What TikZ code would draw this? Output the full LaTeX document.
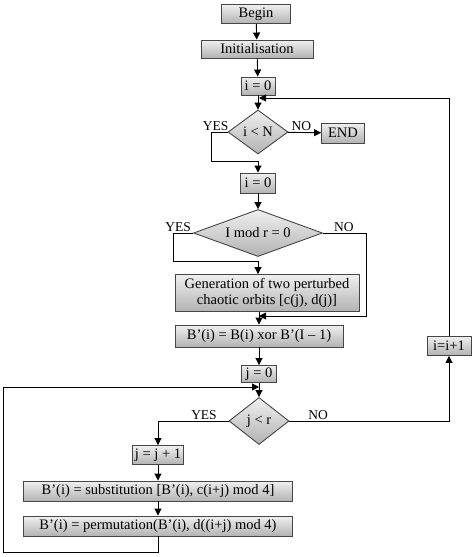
\documentclass[tikz,border=0pt]{standalone}
\usepackage{fontspec}
\setmainfont{Liberation Serif}
\usetikzlibrary{shapes.geometric,arrows.meta}

\tikzset{
  blk/.style={rectangle, draw=gray!55!black, line width=0.9pt, top color=gray!12, bottom color=gray!60,
    inner sep=1pt, font=\fontsize{14.5}{15.5}\selectfont},
  dec/.style={diamond, draw=gray!55!black, line width=0.9pt, top color=gray!12, bottom color=gray!60,
    inner sep=0pt, font=\fontsize{14.5}{15.5}\selectfont},
  lbl/.style={font=\fontsize{13.5}{14}\selectfont, inner sep=1pt},
  arr/.style={-{Triangle[length=7pt,width=7pt]}, line width=0.9pt},
  ln/.style={line width=0.9pt}
}

\begin{document}
\begin{tikzpicture}[x=1pt,y=-1pt]
	\useasboundingbox (0,0) rectangle (474,557);

	\node[blk, minimum width=69pt, minimum height=19pt] (begin) at (256,14) {Begin};
	\node[blk, minimum width=112pt, minimum height=18pt] (init) at (257,49) {Initialisation};
	\node[blk, minimum width=34pt, minimum height=18pt] (ia) at (258,86) {i = 0};
	\node[dec, aspect=1.36, minimum width=60pt, minimum height=44pt] (dn) at (258,132) {i < N};
	\node[blk, minimum width=43pt, minimum height=20pt] (end) at (343,133) {END};
	\node[blk, minimum width=35pt, minimum height=20pt] (ib) at (258,183) {i = 0};
	\node[dec, aspect=2.74, minimum width=129pt, minimum height=47pt] (dmod) at (258,233) {I mod r = 0};
	\node[blk, minimum width=184pt, minimum height=37pt, align=center] (gen) at (267,293)
		{Generation of two perturbed\\chaotic orbits [c(j), d(j)]};
	\node[blk, minimum width=168pt, minimum height=22pt] (xor) at (259,336) {B’(i) = B(i) xor B’(I – 1)};
	\node[blk, minimum width=35pt, minimum height=17pt] (ja) at (259,374) {j = 0};
	\node[dec, aspect=1.28, minimum width=60pt, minimum height=47pt] (djr) at (259,421) {j < r};
	\node[blk, minimum width=44pt, minimum height=19pt] (inc) at (449,346) {i=i+1};
	\node[blk, minimum width=51pt, minimum height=19pt] (jinc) at (158,455) {j = j + 1};
	\node[blk, minimum width=269pt, minimum height=20pt] (sub) at (158,491)
		{B’(i) = substitution [B’(i), c(i+j) mod 4]};
	\node[blk, minimum width=269pt, minimum height=20pt] (perm) at (158,526)
		{B’(i) = permutation(B’(i), d((i+j) mod 4)};

	\coordinate (m1) at (259,98);
	\coordinate (y1) at (258,161);
	\coordinate (y2) at (258,261);
	\coordinate (m2) at (259,316);
	\coordinate (m3) at (259,387);
	\coordinate (l1) at (3,552);

	\draw[arr] (begin) -- (init);
	\draw[arr] (init) -- (ia);
	\draw[arr] (ia) -- (dn);
	\draw[arr] (dn) -- (end);
	\draw[arr] (dn.west) -- ++(-16,0) |- (y1) -- (ib.north);
	\draw[arr] (ib) -- (dmod);
	\draw[arr] (dmod.west) -- ++(-20,0) |- (y2) -- (y2 |- gen.north);
	\draw[arr] (dmod.east) -- ++(43,0) |- (m2);
	\draw[arr] (gen.south -| xor.north) -- (xor.north);
	\draw[arr] (xor) -- (ja);
	\draw[arr] (ja) -- (djr);
	\draw[arr] (djr.west) -| (jinc.north);
	\draw[arr] (djr.east) -| (inc.south);
	\draw[arr] (inc.north) |- (m1);
	\draw[arr] (jinc) -- (sub);
	\draw[arr] (sub) -- (perm);
	\draw[arr] (perm.south) |- (l1) |- (m3);

	\node[lbl, anchor=south east] (yn) at ([xshift=2pt]dn.west) {YES};
	\node[lbl, anchor=south west] (nn) at ([xshift=2pt]dn.east) {NO};
	\node[lbl, anchor=south east] (ym) at ([xshift=-1pt]dmod.west) {YES};
	\node[lbl, anchor=south west] (nm) at ([xshift=10pt]dmod.east) {NO};
	\node[lbl, anchor=south] (yj) at (204,421) {YES};
	\node[lbl, anchor=south] (nj) at (318,421) {NO};
\end{tikzpicture}
\end{document}
